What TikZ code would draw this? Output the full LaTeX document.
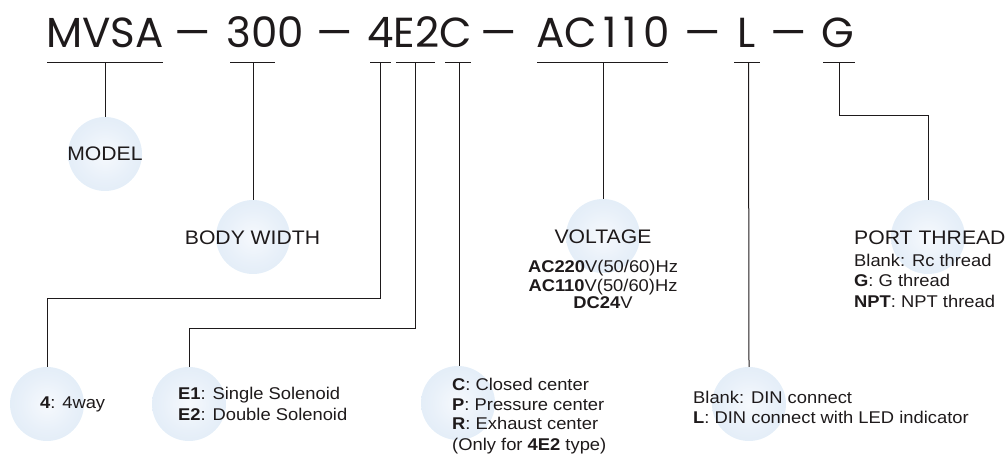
\documentclass[tikz,border=0pt]{standalone}
\usepackage{fontspec}
\setmainfont{Liberation Sans}[FakeStretch=1.08]
\newfontfamily\titlefont{Poppins}
\usetikzlibrary{calc}
\definecolor{ink}{HTML}{1E1A1B}
\definecolor{ballin}{HTML}{F6F9FD}
\definecolor{ballmid}{HTML}{E8F0F9}
\definecolor{ballout}{HTML}{D5E5F3}
\pgfdeclareradialshading{ballshade}{\pgfpoint{0bp}{0bp}}{color(0bp)=(ballin); color(18bp)=(ballmid); color(50bp)=(ballout)}
\tikzset{
  codetxt/.style={font=\titlefont\fontsize{42}{42}\selectfont, text=ink, anchor=base, inner sep=0pt},
  dashtxt/.style={codetxt, font=\titlefont\fontsize{42}{42}\selectfont\addfontfeature{FakeStretch=1.35}},
  ball/.style={circle, minimum size=74pt, inner sep=0pt, shading=ballshade},
  conn/.style={draw=ink, line width=1pt},
  ul/.style={draw=ink, line width=1pt},
  head/.style={font=\fontsize{19.6}{22}\selectfont, text=ink, inner sep=0pt},
  lab/.style={font=\fontsize{17}{20}\selectfont, text=ink, inner sep=0pt},
}
\begin{document}
\begin{tikzpicture}[x=1pt,y=-1pt]
\useasboundingbox (0,0) rectangle (1006,462);
% code string
\node[codetxt] (mvsa) at (105,47.5) {MVSA};
\node[dashtxt] (d1) at (193,47.5) {–};
\node[codetxt] (w300) at (265.5,47.5) {300};
\node[dashtxt] (d2) at (335,47.5) {–};
\node[codetxt] (type) at (419.5,47.5) {4E2C};
\node[dashtxt] (d3) at (499,47.5) {–};
\node[codetxt] (volt) at (603,47.5) {AC\kern6pt 1\kern7pt 1\kern6pt 0};
\node[dashtxt] (d4) at (703,47.5) {–};
\node[codetxt] (led) at (747,47.5) {L};
\node[dashtxt] (d5) at (789,47.5) {–};
\node[codetxt] (thr) at (838,47.5) {G};
% underlines
\draw[ul] (47,63) -- (163,63);
\draw[ul] (230,63) -- (275,63);
\draw[ul] (370,63) -- (391,63);
\draw[ul] (396,63) -- (435,63);
\draw[ul] (445,63) -- (471,63);
\draw[ul] (537,63) -- (668,63);
\draw[ul] (734,63) -- (760,63);
\draw[ul] (823,63) -- (855,63);
\coordinate (t-model) at (105,63);
\coordinate (t-body) at (253,63);
\coordinate (t-way) at (380.5,63);
\coordinate (t-sol) at (415.5,63);
\coordinate (t-ctr) at (459,63);
\coordinate (t-volt) at (603,63);
\coordinate (t-din) at (748.5,63);
\coordinate (t-port) at (839,63);
% balls
\node[ball] (b-model) at (105,154) {};
\node[ball] (b-body) at (253,237) {};
\node[ball] (b-volt) at (603,236) {};
\node[ball] (b-port) at (928,237) {};
\node[ball] (b-way) at (47,404) {};
\node[ball] (b-sol) at (189,404) {};
\node[ball] (b-ctr) at (458,403) {};
\node[ball] (b-din) at (749,404) {};
% connectors
\draw[conn] (t-model) -- (b-model.north);
\draw[conn] (t-body) -- (b-body.north);
\draw[conn] (t-way) -- ++(0,235) -| (b-way.north);
\draw[conn] (t-sol) -- ++(0,265) -| (b-sol.north);
\draw[conn] (t-ctr) -- (t-ctr |- b-ctr.north);
\draw[conn] (t-volt) -- (b-volt.north);
\draw[conn] (t-din) -- (b-din.north);
\draw[conn] (t-port) -- ++(0,53) -| (b-port.north);
% labels
\node[head, anchor=base] (l-model) at (105,161) {MODEL};
\node[head, anchor=base] (l-body) at (252.5,245) {BODY WIDTH};
\node[head, anchor=base] (l-volt) at (603,244) {VOLTAGE};
\node[lab, anchor=base] (l-volt1) at (603,272.5) {\textbf{AC220}V(50/60)Hz};
\node[lab, anchor=base] (l-volt2) at (603,291) {\textbf{AC110}V(50/60)Hz};
\node[lab, anchor=base] (l-volt3) at (603,308.5) {\textbf{DC24}V};
\node[head, anchor=base west] (l-port) at (854,245) {PORT THREAD};
\node[lab, anchor=base west] (l-port1) at (854,267) {Blank: Rc thread};
\node[lab, anchor=base west] (l-port2) at (854,287) {\textbf{G}: G thread};
\node[lab, anchor=base west] (l-port3) at (854,307) {\textbf{NPT}: NPT thread};
\node[lab, anchor=base west] (l-way) at (40,408) {\textbf{4}: 4way};
\node[lab, anchor=base west] (l-sol1) at (178,399) {\textbf{E1}: Single Solenoid};
\node[lab, anchor=base west] (l-sol2) at (178,420) {\textbf{E2}: Double Solenoid};
\node[lab, anchor=base west] (l-ctr1) at (452,390) {\textbf{C}: Closed center};
\node[lab, anchor=base west] (l-ctr2) at (452,410) {\textbf{P}: Pressure center};
\node[lab, anchor=base west] (l-ctr3) at (452,429) {\textbf{R}: Exhaust center};
\node[lab, anchor=base west] (l-ctr4) at (452,450) {(Only for \textbf{4E2} type)};
\node[lab, anchor=base west] (l-din1) at (693,403) {Blank: DIN connect};
\node[lab, anchor=base west] (l-din2) at (693,423) {\textbf{L}: DIN connect with LED indicator};
\end{tikzpicture}
\end{document}
